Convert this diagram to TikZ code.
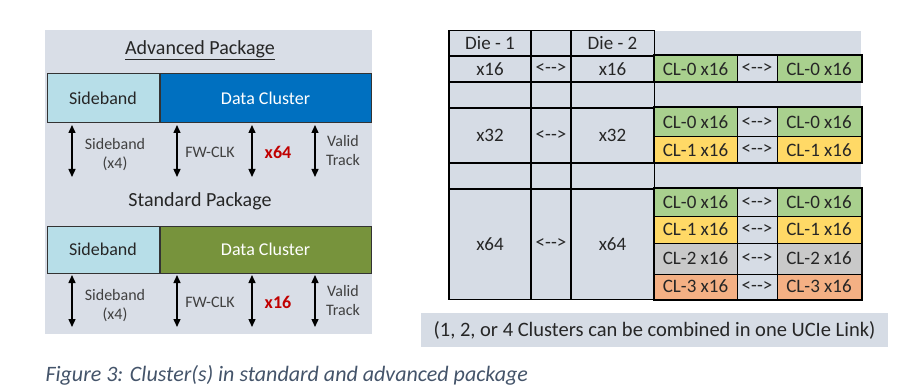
\documentclass[tikz,border=0pt]{standalone}
\usepackage{fontspec}
\setmainfont{Carlito}
\usepackage{xcolor}
\usetikzlibrary{arrows.meta,positioning}
\definecolor{panelbg}{HTML}{D9DEE7}
\definecolor{cellbg}{HTML}{D6DCE5}
\definecolor{sbblue}{HTML}{B7DEE8}
\definecolor{advblue}{HTML}{0070C0}
\definecolor{stdgreen}{HTML}{77933C}
\definecolor{clgreen}{HTML}{A9D08E}
\definecolor{clyellow}{HTML}{FFD966}
\definecolor{clgray}{HTML}{C9C9C9}
\definecolor{clorange}{HTML}{F4B084}
\definecolor{xred}{HTML}{C00000}
\definecolor{capcol}{HTML}{44546A}
\definecolor{txt}{HTML}{262626}
\newcommand{\tcell}[7]{\node[cell, fill=#6, minimum width={#4-#2}, minimum height={#5-#3}] (#1) at ({(#2+#4)/2},{(#3+#5)/2}) {#7};}
\newcommand{\lnk}{<-{}-{}>}

\begin{document}
\begin{tikzpicture}[
  x=1pt, y=-1pt,
  every node/.style={font=\fontsize{18}{21}\selectfont, text=txt},
  ttl/.style={font=\fontsize{20}{24}\selectfont},
  bar/.style={draw=black!80, line width=1pt, inner sep=0pt},
  lbl/.style={align=center, font=\fontsize{16}{19}\selectfont, text=black!75},
  xlbl/.style={font=\fontsize{18}{21}\selectfont\bfseries, text=xred},
  ar/.style={{Triangle[width=7pt,length=8pt]}-{Triangle[width=7pt,length=8pt]}, line width=1.4pt},
  cell/.style={draw=black, line width=1pt, inner sep=0pt, font=\fontsize{19}{22}\selectfont},
  dcell/.style={cell, line width=1.8pt},
  grp/.style={draw=black, line width=2pt}
]
\useasboundingbox (0,0) rectangle (907,390);

\fill[panelbg] (45,30) rectangle (372,334);
\node[ttl] (advt) at (200,50) {\underline{Advanced Package}};
\node[bar, fill=sbblue, minimum width=112, minimum height=49] (asb) at (103,98.5) {Sideband};
\node[bar, fill=advblue, text=white, minimum width=211, minimum height=49, right=0pt of asb] (adc) {Data Cluster};
\foreach \x [count=\i] in {72,177,252,315} {
  \coordinate (at\i) at (\x,125);
  \coordinate (ab\i) at (\x,177);
  \draw[ar] (at\i) -- (ab\i);
}
\node[lbl] (asbl) at (115,155) {Sideband\\(x4)};
\node[lbl] (afw) at (210,152) {FW-CLK};
\node[xlbl] (ax) at (278,152) {x64};
\node[lbl] (avt) at (343,151) {Valid\\Track};

\node[ttl] (stdt) at (200,201) {Standard Package};
\node[bar, fill=sbblue, minimum width=112, minimum height=47] (ssb) at (103,249.5) {Sideband};
\node[bar, fill=stdgreen, text=white, minimum width=211, minimum height=47, right=0pt of ssb] (sdc) {Data Cluster};
\foreach \x [count=\i] in {72,177,252,315} {
  \coordinate (st\i) at (\x,275);
  \coordinate (sb\i) at (\x,327);
  \draw[ar] (st\i) -- (sb\i);
}
\node[lbl] (ssbl) at (115,306) {Sideband\\(x4)};
\node[lbl] (sfw) at (210,302) {FW-CLK};
\node[xlbl] (sx) at (278,302) {x16};
\node[lbl] (svt) at (343,301) {Valid\\Track};

\fill[cellbg] (449,31) rectangle (861,299);
\tcell{d1h}{449}{31}{531}{56}{cellbg}{Die - 1}
\tcell{arh}{531}{31}{571}{56}{cellbg}{}
\tcell{d2h}{571}{31}{654}{56}{cellbg}{Die - 2}
\foreach \ya/\yb/\w/\s in {56/82/x16/\lnk, 82/108//, 108/163/x32/\lnk, 163/189//, 189/299/x64/\lnk} {
  \tcell{d1\ya}{449}{\ya}{531}{\yb}{cellbg}{\w}
  \tcell{ar\ya}{531}{\ya}{571}{\yb}{cellbg}{\s}
  \tcell{d2\ya}{571}{\ya}{654}{\yb}{cellbg}{\w}
}
\foreach \i in {h,56,82,108,163,189} {
  \draw[dcell] (d1\i.north west) rectangle (d1\i.south east);
  \draw[dcell] (ar\i.north west) rectangle (ar\i.south east);
  \draw[dcell] (d2\i.north west) rectangle (d2\i.south east);
}
\foreach \ya/\yb/\c/\n/\g in {56/82/clgreen/0/a, 108/137/clgreen/0/b, 137/163/clyellow/1/b,
    189/216/clgreen/0/c, 216/243/clyellow/1/c, 243/274/clgray/2/c, 274/299/clorange/3/c} {
  \tcell{l\n\g}{654}{\ya}{737}{\yb}{\c}{CL-\n\ x16}
  \tcell{m\n\g}{737}{\ya}{777}{\yb}{cellbg}{\lnk}
  \tcell{r\n\g}{777}{\ya}{861}{\yb}{\c}{CL-\n\ x16}
}
\draw[grp] (l0a.north west) rectangle (r0a.south east);
\draw[grp] (l0b.north west) rectangle (r1b.south east);
\draw[grp] (l0c.north west) rectangle (r3c.south east);

\node[fill=cellbg, minimum width=467, minimum height=34, inner sep=0pt, font=\fontsize{20.5}{24}\selectfont] (note) at (654.5,330) {(1, 2, or 4 Clusters can be combined in one UCIe Link)};
\node[anchor=west, font=\fontsize{22}{26}\selectfont\itshape, text=capcol] (cap) at (42,375) {Figure 3: Cluster(s) in standard and advanced package};
\end{tikzpicture}
\end{document}
